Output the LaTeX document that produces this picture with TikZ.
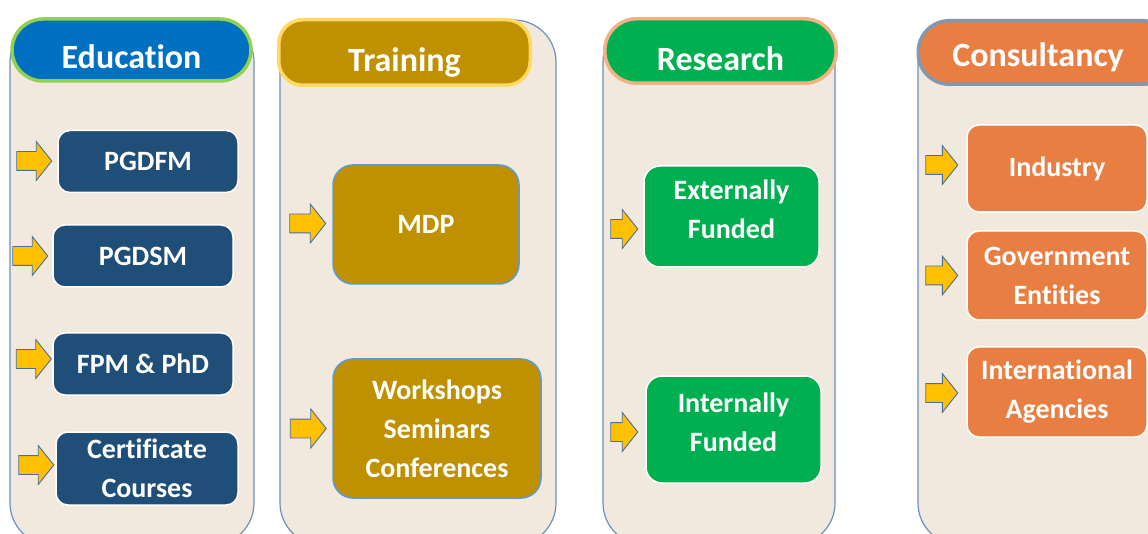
\documentclass[tikz,border=0pt]{standalone}
\usepackage{fontspec}
\setmainfont[Ligatures=NoCommon]{Carlito}
\usetikzlibrary{shapes.arrows}
\definecolor{panelfill}{HTML}{F1E9DE}
\definecolor{panelline}{HTML}{6C8EBF}
\definecolor{edublue}{HTML}{0070C0}
\definecolor{edugreen}{HTML}{92D050}
\definecolor{edubox}{HTML}{1F4E79}
\definecolor{trngold}{HTML}{BF9000}
\definecolor{trnyellow}{HTML}{FFD966}
\definecolor{trnline}{HTML}{5B9BD5}
\definecolor{resgreen}{HTML}{00B050}
\definecolor{respeach}{HTML}{F4B183}
\definecolor{conorange}{HTML}{E97E42}
\definecolor{congrey}{HTML}{8497B0}
\definecolor{arrowfill}{HTML}{FFC000}
\definecolor{arrowline}{HTML}{4A6F9A}
\begin{document}
\begin{tikzpicture}[x=1pt,y=-1pt,
    panel/.style={draw=panelline,line width=1.2pt,fill=panelfill,rounded corners=42pt,
      minimum height=525pt,inner sep=0pt},
    head/.style={line width=3.5pt,inner sep=0pt},
    headlabel/.style={text=white,font=\fontsize{34}{40}\selectfont\bfseries,
      text height=22pt,text depth=0pt,yshift=-8pt},
    item/.style={text=white,draw=white,line width=1.5pt,inner sep=0pt,align=center,
      font=\fontsize{28}{39}\selectfont\bfseries,rounded corners=12pt},
    pointer/.style={single arrow,draw=arrowline,fill=arrowfill,line width=0.9pt,
      inner sep=9pt,minimum width=38pt,single arrow head extend=10pt,
      single arrow tip angle=103,minimum height=35pt}]
  \clip (0,0) rectangle (1148,534);
  \fill[white] (0,0) rectangle (1148,534);

  \node[panel,minimum width=244pt] (pedu) at (132,282.5) {};
  \node[panel,minimum width=276pt] (ptrn) at (418,282.5) {};
  \node[panel,minimum width=232pt] (pres) at (719,282.5) {};
  \node[panel,minimum width=262pt] (pcon) at (1049,282.5) {};

  \node[head,fill=edublue,draw=edugreen,rounded corners=31pt,minimum width=239pt,minimum height=62pt,
    label={[headlabel]center:Education}] (hedu) at (131.5,50) {};
  \node[head,fill=trngold,draw=trnyellow,rounded corners=24pt,minimum width=251.5pt,minimum height=65.5pt,
    label={[headlabel]center:Training}] (htrn) at (404.5,52.5) {};
  \node[head,fill=resgreen,draw=respeach,rounded corners=32pt,minimum width=231.5pt,minimum height=64.5pt,
    label={[headlabel,yshift=-1pt]center:Research}] (hres) at (720.5,51) {};
  \node[head,fill=conorange,draw=congrey,rounded corners=31pt,minimum width=255.5pt,minimum height=63.5pt,
    label={[headlabel,yshift=5pt,xshift=-8pt]center:Consultancy}] (hcon) at (1046,52.5) {};

  \begin{scope}[every node/.append style={item,fill=edubox}]
    \node[minimum width=180pt,minimum height=62pt] (pgdfm) at (148,161.5) {PGDFM};
    \node[minimum width=180pt,minimum height=62pt] (pgdsm) at (143,256) {PGDSM};
    \node[minimum width=180pt,minimum height=62pt] (fpm) at (143,364) {FPM \& PhD};
    \node[minimum width=182pt,minimum height=73pt] (cert) at (147,468.5) {Certificate\\Courses};
  \end{scope}
  \begin{scope}[every node/.append style={item,fill=trngold,draw=trnline,rounded corners=20pt}]
    \node[minimum width=186pt,minimum height=119pt] (mdp) at (426,224.5) {MDP};
    \node[minimum width=208pt,minimum height=139pt] (work) at (437,428.5) {Workshops\\Seminars\\Conferences};
  \end{scope}
  \begin{scope}[every node/.append style={item,fill=resgreen,rounded corners=16pt,text depth=14pt}]
    \node[minimum width=175pt,minimum height=101pt] (ext) at (731.5,216.5) {Externally\\Funded};
    \node[minimum width=175pt,minimum height=107pt] (int) at (733.5,429.5) {Internally\\Funded};
  \end{scope}
  \begin{scope}[every node/.append style={item,fill=conorange}]
    \node[minimum width=180pt,minimum height=87pt] (ind) at (1057,168.5) {Industry};
    \node[minimum width=180pt,minimum height=89pt] (gov) at (1057,275.5) {Government\\Entities};
    \node[minimum width=180pt,minimum height=90pt] (intl) at (1057,392) {International\\Agencies};
  \end{scope}

  \node[pointer] (a1) at (30.5,161) {};
  \node[pointer] (a2) at (26.5,256) {};
  \node[pointer] (a3) at (30,359) {};
  \node[pointer] (a4) at (32.5,465) {};
  \node[pointer,minimum height=36pt] (a5) at (304,223.5) {};
  \node[pointer,minimum height=36pt] (a6) at (304.5,428.5) {};
  \node[pointer,minimum height=27pt] (a7) at (620.5,229) {};
  \node[pointer,minimum height=27pt] (a8) at (620.5,432) {};
  \node[pointer,minimum height=32pt] (a9) at (938,165) {};
  \node[pointer,minimum height=32pt] (a10) at (938,275.5) {};
  \node[pointer,minimum height=32pt] (a11) at (938,393) {};
\end{tikzpicture}
\end{document}
